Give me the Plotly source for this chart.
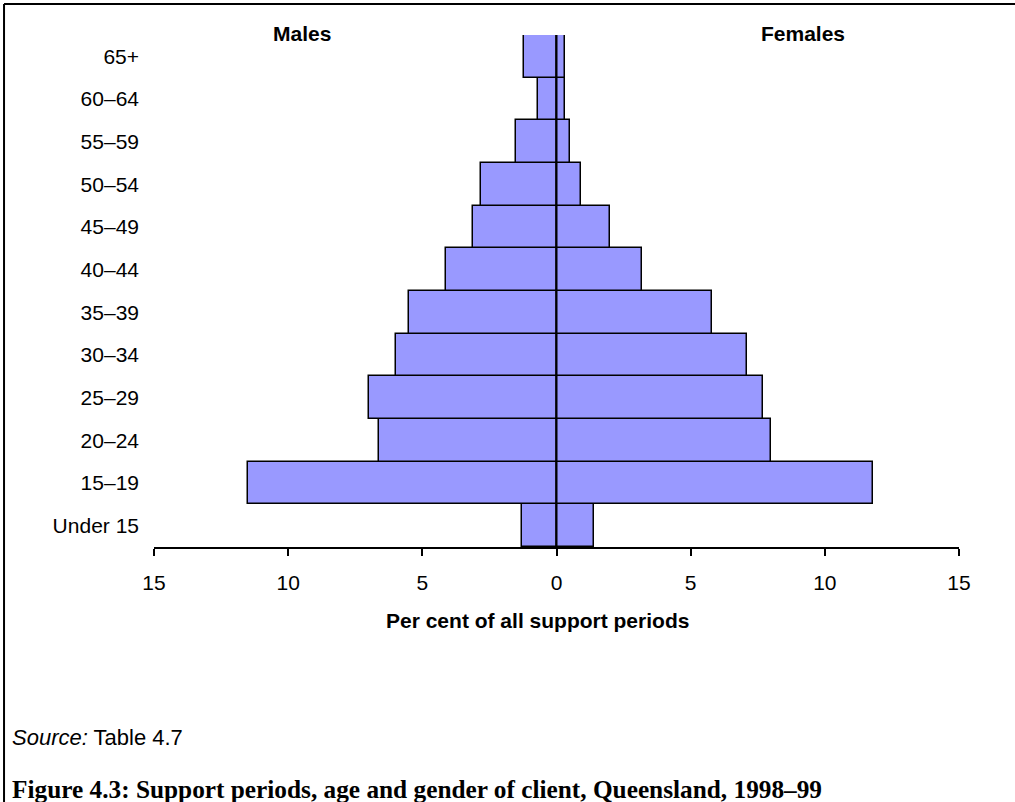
import plotly.graph_objects as go

age_groups = ["Under 15", "15–19", "20–24", "25–29", "30–34", "35–39",
              "40–44", "45–49", "50–54", "55–59", "60–64", "65+"]
males = [1.3, 11.5, 6.6, 7.0, 6.0, 5.5, 4.1, 3.1, 2.8, 1.5, 0.7, 1.2]
females = [1.4, 11.8, 8.0, 7.7, 7.1, 5.8, 3.2, 2.0, 0.9, 0.5, 0.3, 0.3]
tick_vals = [-15, -10, -5, 0, 5, 10, 15]
tick_text = ["15", "10", "5", "0", "5", "10", "15"]

FONT = "Liberation Sans, Arial, sans-serif"
FILL = "#9999FF"

fig = go.Figure()
fig.add_trace(go.Bar(
    y=age_groups, x=[-v for v in males], orientation="h", name="Males",
    marker=dict(color=FILL, line=dict(color="black", width=1.5)),
    hoverinfo="skip"))
fig.add_trace(go.Bar(
    y=age_groups, x=females, orientation="h", name="Females",
    marker=dict(color=FILL, line=dict(color="black", width=1.5)),
    hoverinfo="skip"))

fig.update_layout(
    width=1015, height=802,
    margin=dict(l=154, r=56, t=35, b=255),
    paper_bgcolor="white", plot_bgcolor="white",
    barmode="relative", bargap=0,
    showlegend=False,
    font=dict(family=FONT, size=21, color="black"),
    xaxis=dict(
        range=[-15, 15], tickvals=tick_vals, ticktext=tick_text,
        showgrid=False, zeroline=False,
        showline=True, linecolor="black", linewidth=2,
        ticks="outside", ticklen=7, tickwidth=2, tickcolor="black",
        tickfont=dict(family=FONT, size=21, color="black"),
        ticklabelstandoff=9, fixedrange=True,
    ),
    yaxis=dict(
        type="category", categoryorder="array", categoryarray=age_groups,
        range=[-0.5, len(age_groups) - 0.5],
        showgrid=False, zeroline=False, showline=False, ticks="",
        tickfont=dict(family=FONT, size=21, color="black"),
        ticklabelstandoff=14, fixedrange=True,
    ),
)

# centre line
fig.add_shape(type="line", xref="x", yref="paper", x0=0, x1=0, y0=0, y1=1,
              line=dict(color="black", width=2), layer="above")

# frame lines (top and left)
fig.add_shape(type="line", xref="paper", yref="paper",
              x0=-0.1863, x1=1.08, y0=1.0605, y1=1.0605,
              line=dict(color="black", width=2))
fig.add_shape(type="line", xref="paper", yref="paper",
              x0=-0.1863, x1=-0.1863, y0=1.0605, y1=-0.52,
              line=dict(color="black", width=2))

ann = [
    dict(text="<b>Males</b>", x=0.1839, y=1.0039, xanchor="center", yanchor="middle",
         font=dict(family=FONT, size=21)),
    dict(text="<b>Females</b>", x=0.806, y=1.0039, xanchor="center", yanchor="middle",
         font=dict(family=FONT, size=21)),
    dict(text="<b>Per cent of all support periods</b>", x=0.477, y=-0.1445,
         xanchor="center", yanchor="middle", font=dict(family=FONT, size=21)),
    dict(text="<i>Source:</i> Table 4.7", x=-0.1789, y=-0.373,
         xanchor="left", yanchor="middle", font=dict(family=FONT, size=22)),
    dict(text="<b>Figure 4.3: Support periods, age and gender of client, Queensland, 1998–99</b>",
         x=-0.1789, y=-0.4727, xanchor="left", yanchor="middle",
         font=dict(family="Liberation Serif, Times New Roman, serif", size=25.3)),
]
for a in ann:
    a.update(xref="paper", yref="paper", showarrow=False)
    a["font"]["color"] = "black"
fig.update_layout(annotations=ann)

fig.write_html("out.html", config={"displayModeBar": False},
               post_script="document.body.style.margin='0';")
